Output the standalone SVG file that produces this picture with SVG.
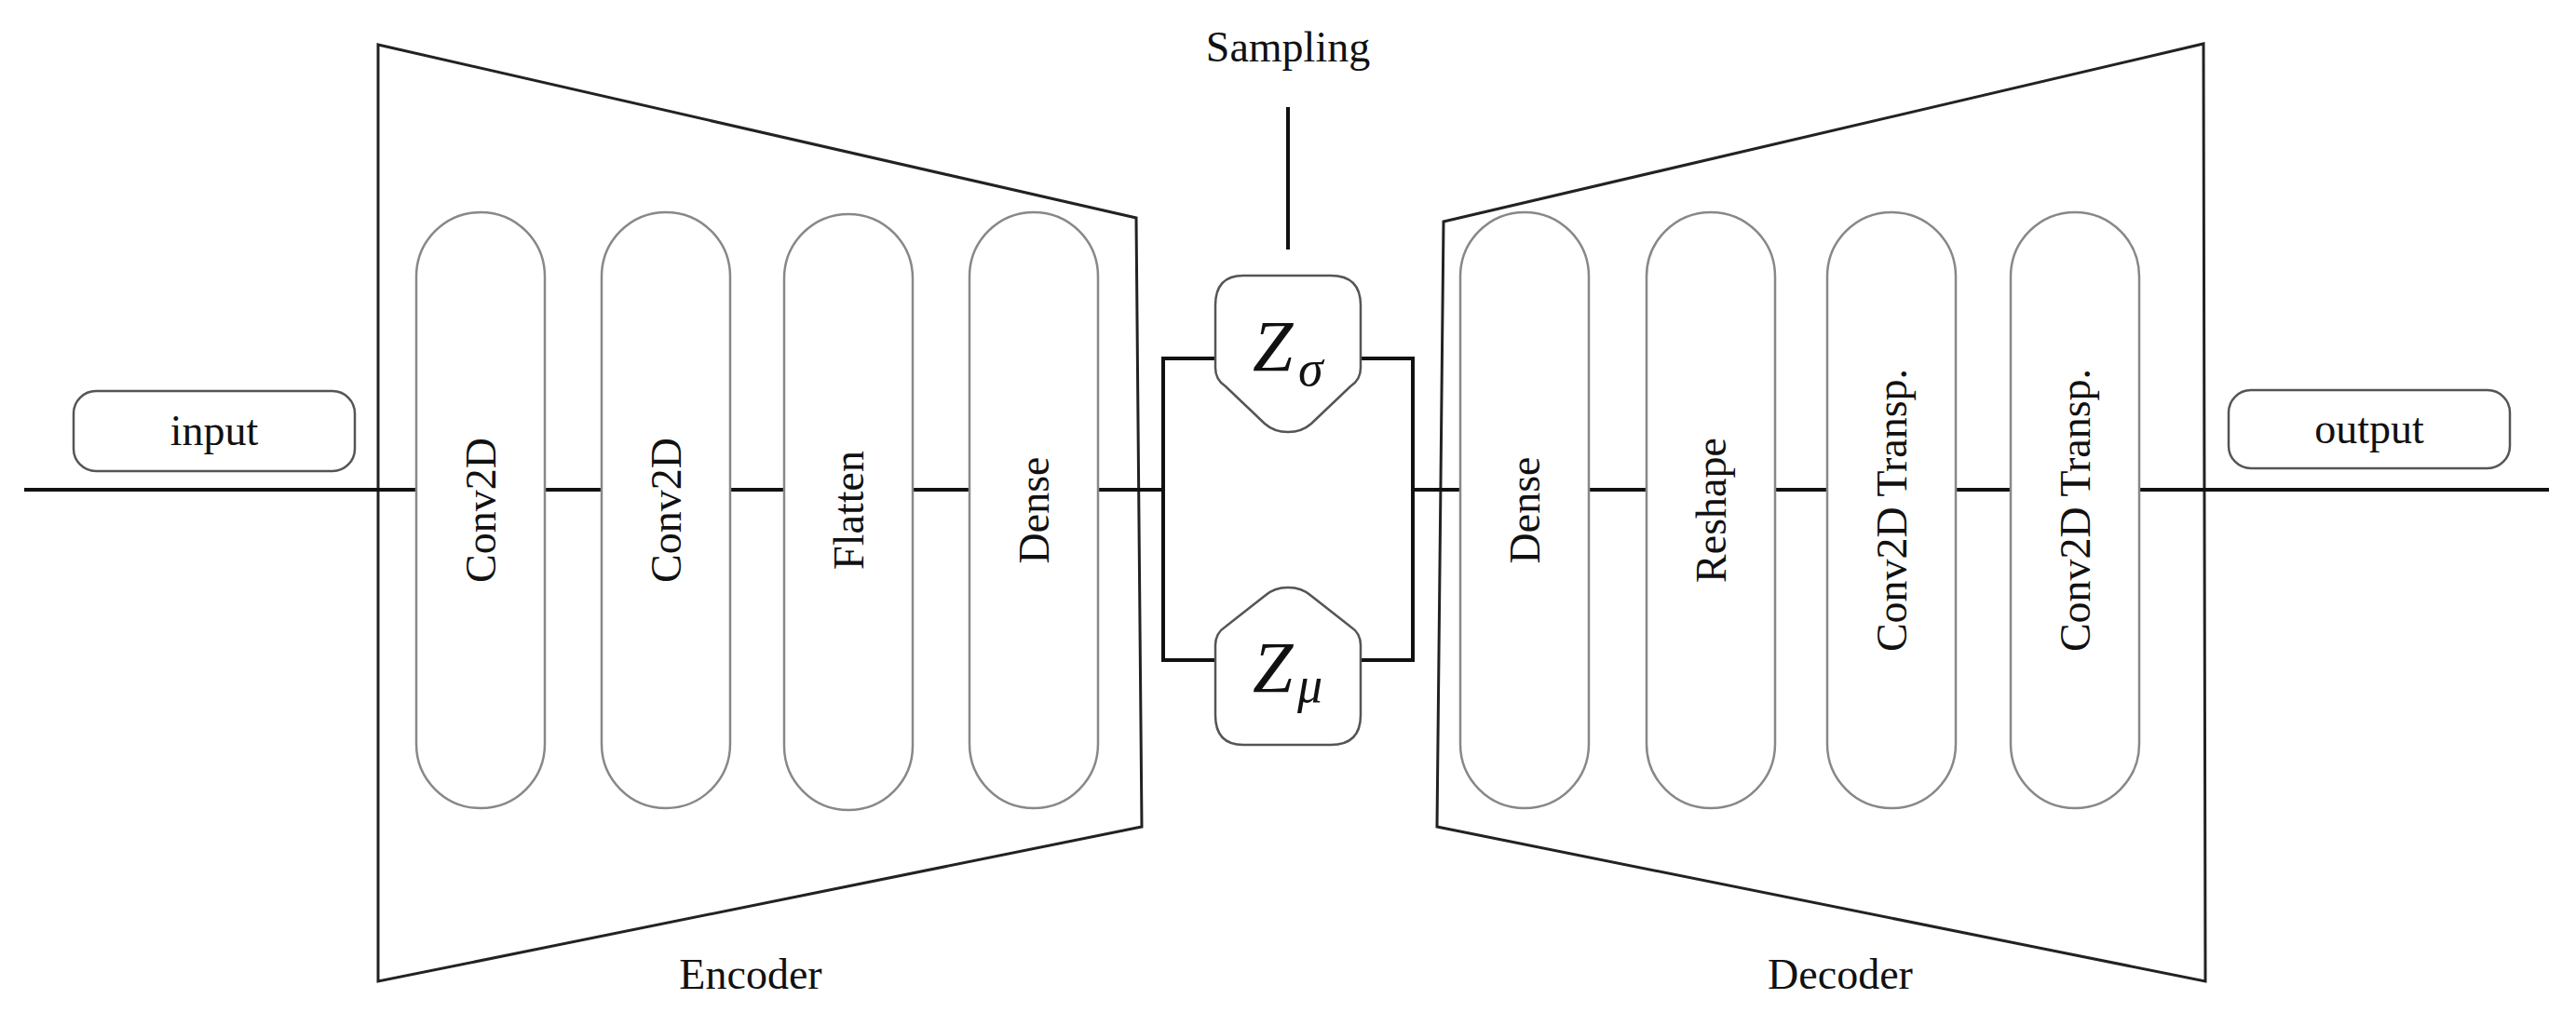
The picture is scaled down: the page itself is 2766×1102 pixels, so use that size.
<svg xmlns="http://www.w3.org/2000/svg" width="2766" height="1102" viewBox="0 0 2766 1102">
<style>
.frame{fill:none;stroke:#222;stroke-width:3}
.wire{fill:none;stroke:#111;stroke-width:4}
.pill{fill:#fff;stroke:#888;stroke-width:2.5}
.box{fill:#fff;stroke:#555;stroke-width:2.5}
.t{font-family:"Liberation Serif",serif;font-size:46px;fill:#111}
.z{font-family:"Liberation Serif",serif;font-style:italic;fill:#111}
</style>
<rect width="2766" height="1102" fill="#fff"/>
<g id="encoder">
<polygon class="frame" points="406,48 1220,234 1226,888 406,1054"/>
<text class="t" x="806" y="1062" text-anchor="middle">Encoder</text>
</g>
<g id="decoder">
<polygon class="frame" points="1550,238 2366,47 2368,1054 1543,888"/>
<text class="t" x="1976" y="1062" text-anchor="middle">Decoder</text>
</g>
<g id="connectors">
<line class="wire" x1="26" y1="526" x2="1249" y2="526"/>
<line class="wire" x1="1517" y1="526" x2="2737" y2="526"/>
<polyline class="wire" points="1305,385 1249,385 1249,709 1305,709"/>
<polyline class="wire" points="1461,385 1517,385 1517,709 1461,709"/>
<line class="wire" x1="1383" y1="115" x2="1383" y2="268" stroke-width="3"/>
</g>
<g id="input"><rect class="box" x="79" y="420" width="302" height="86" rx="24"/><text class="t" x="230" y="478" text-anchor="middle">input</text></g>
<g id="output"><rect class="box" x="2393" y="419" width="302" height="84" rx="24"/><text class="t" x="2544" y="476" text-anchor="middle">output</text></g>
<g id="sampling"><text class="t" x="1383" y="66" text-anchor="middle">Sampling</text></g>
<g id="enc1"><rect class="pill" x="447" y="228" width="138" height="640" rx="69"/><text class="t" transform="translate(532,548) rotate(-90)" text-anchor="middle">Conv2D</text></g>
<g id="enc2"><rect class="pill" x="646" y="228" width="138" height="640" rx="69"/><text class="t" transform="translate(731,548) rotate(-90)" text-anchor="middle">Conv2D</text></g>
<g id="enc3"><rect class="pill" x="842" y="230" width="138" height="640" rx="69"/><text class="t" transform="translate(927,548) rotate(-90)" text-anchor="middle">Flatten</text></g>
<g id="enc4"><rect class="pill" x="1041" y="228" width="138" height="640" rx="69"/><text class="t" transform="translate(1126,548) rotate(-90)" text-anchor="middle">Dense</text></g>
<g id="dec1"><rect class="pill" x="1568" y="228" width="138" height="640" rx="69"/><text class="t" transform="translate(1653,548) rotate(-90)" text-anchor="middle">Dense</text></g>
<g id="dec2"><rect class="pill" x="1768" y="228" width="138" height="640" rx="69"/><text class="t" transform="translate(1853,548) rotate(-90)" text-anchor="middle">Reshape</text></g>
<g id="dec3"><rect class="pill" x="1962" y="228" width="138" height="640" rx="69"/><text class="t" transform="translate(2047,548) rotate(-90)" text-anchor="middle">Conv2D Transp.</text></g>
<g id="dec4"><rect class="pill" x="2159" y="228" width="138" height="640" rx="69"/><text class="t" transform="translate(2244,548) rotate(-90)" text-anchor="middle">Conv2D Transp.</text></g>
<g id="zsigma">
<path class="box" d="M1335,296 H1429 Q1461,296 1461,328 V395 Q1461,408 1450,415 L1408,455 Q1398,464 1383,464 Q1368,464 1358,455 L1316,415 Q1305,408 1305,395 V328 Q1305,296 1335,296 Z"/>
<text class="z" x="1345" y="398" font-size="78">Z</text><text class="z" x="1394" y="414" font-size="54">σ</text>
</g>
<g id="zmu">
<path class="box" d="M1335,800 H1429 Q1461,800 1461,768 V693 Q1461,680 1450,673 L1408,640 Q1398,631 1383,631 Q1368,631 1358,640 L1316,673 Q1305,680 1305,693 V768 Q1305,800 1335,800 Z"/>
<text class="z" x="1345" y="743" font-size="78">Z</text><text class="z" x="1393" y="754" font-size="54">μ</text>
</g>
</svg>
